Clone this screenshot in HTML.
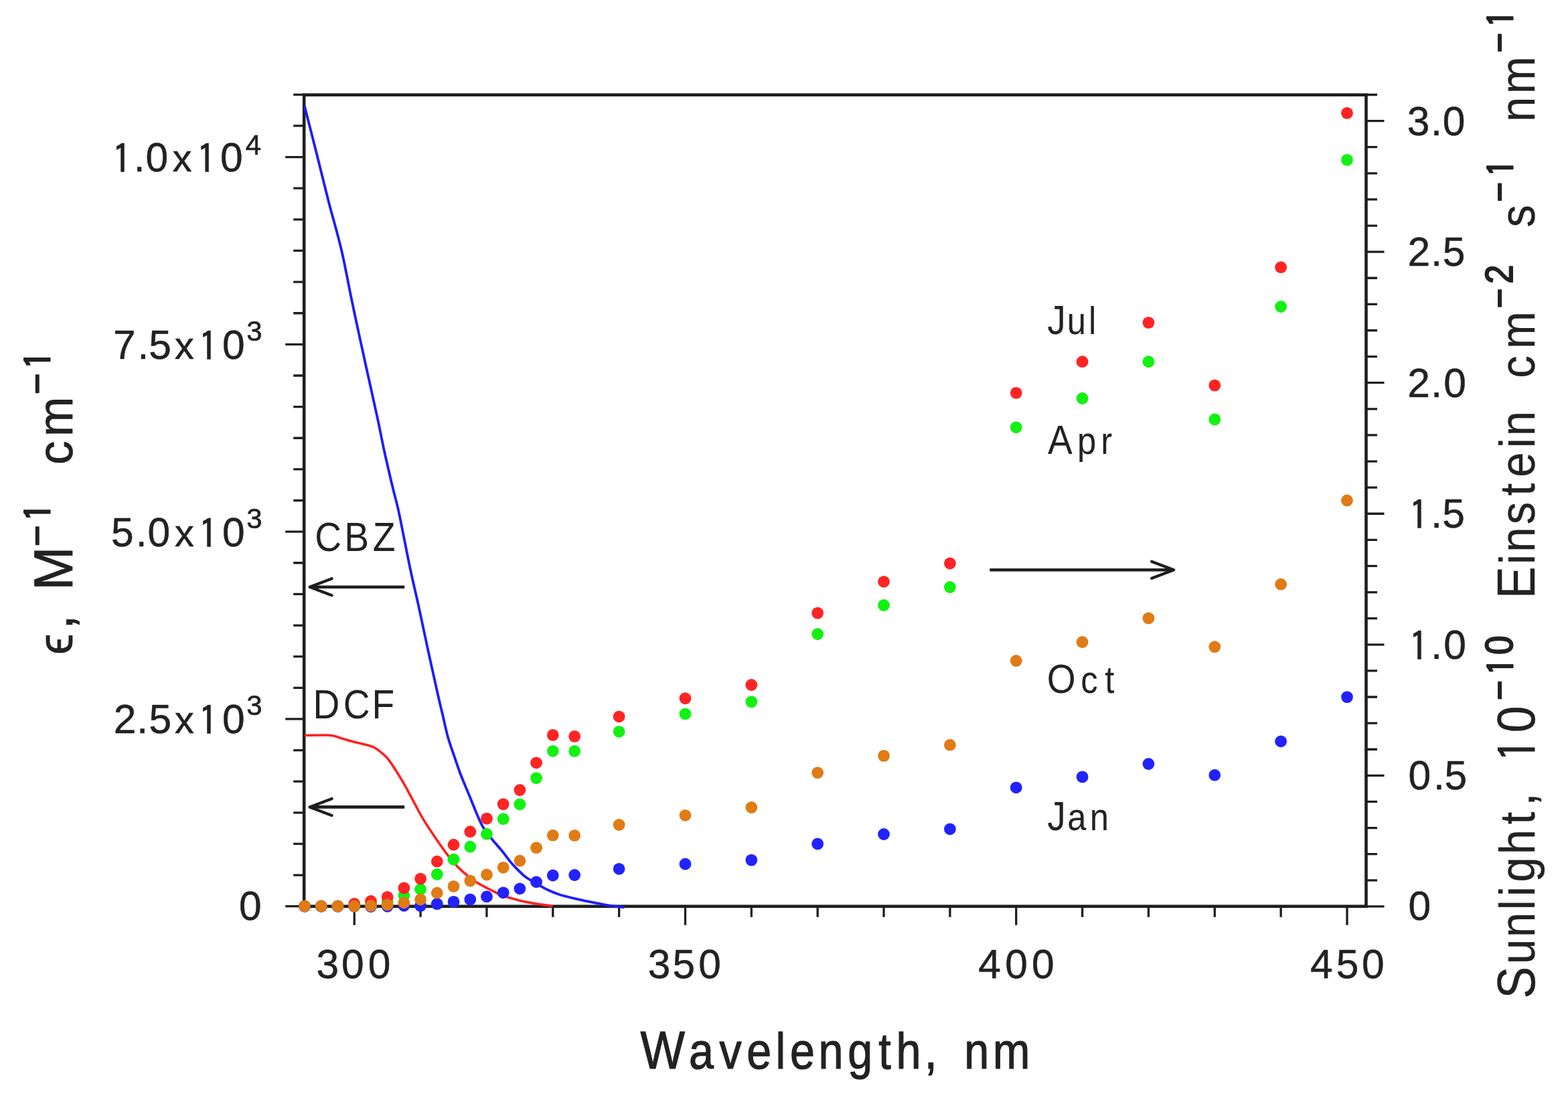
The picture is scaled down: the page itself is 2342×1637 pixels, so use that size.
<!DOCTYPE html>
<html><head><meta charset="utf-8"><title>Molar absorptivity and sunlight spectra</title>
<style>html,body{margin:0;padding:0;background:#fff;width:2342px;height:1637px;overflow:hidden}svg{display:block}</style>
</head><body>
<svg width="2342" height="1637" viewBox="0 0 2342 1637">
<rect x="0" y="0" width="2342" height="1637" fill="#fff"/>
<rect x="454.2" y="141.7" width="1586.3" height="1212" fill="none" stroke="#1e1e1e" stroke-width="4.6"/>
<path d="M426.2 1353.7H454.2 M438.2 1307.07H454.2 M438.2 1260.44H454.2 M438.2 1213.81H454.2 M438.2 1167.18H454.2 M438.2 1120.55H454.2 M426.2 1073.92H454.2 M438.2 1027.29H454.2 M438.2 980.66H454.2 M438.2 934.03H454.2 M438.2 887.4H454.2 M438.2 840.77H454.2 M426.2 794.14H454.2 M438.2 747.51H454.2 M438.2 700.88H454.2 M438.2 654.25H454.2 M438.2 607.62H454.2 M438.2 560.99H454.2 M426.2 514.36H454.2 M438.2 467.73H454.2 M438.2 421.1H454.2 M438.2 374.47H454.2 M438.2 327.84H454.2 M438.2 281.21H454.2 M426.2 234.58H454.2 M438.2 187.95H454.2 M438.2 141.32H454.2 M2040.5 1353.9H2067.5 M2040.5 1314.79H2057 M2040.5 1275.68H2057 M2040.5 1236.57H2057 M2040.5 1197.46H2057 M2040.5 1158.35H2067.5 M2040.5 1119.24H2057 M2040.5 1080.13H2057 M2040.5 1041.02H2057 M2040.5 1001.91H2057 M2040.5 962.8H2067.5 M2040.5 923.69H2057 M2040.5 884.58H2057 M2040.5 845.47H2057 M2040.5 806.36H2057 M2040.5 767.25H2067.5 M2040.5 728.14H2057 M2040.5 689.03H2057 M2040.5 649.92H2057 M2040.5 610.81H2057 M2040.5 571.7H2067.5 M2040.5 532.59H2057 M2040.5 493.48H2057 M2040.5 454.37H2057 M2040.5 415.26H2057 M2040.5 376.15H2067.5 M2040.5 337.04H2057 M2040.5 297.93H2057 M2040.5 258.82H2057 M2040.5 219.71H2057 M2040.5 180.6H2067.5 M2040.5 141.49H2057 M529.25 1353.7V1381.7 M628.1 1353.7V1369.7 M726.95 1353.7V1369.7 M825.8 1353.7V1369.7 M924.65 1353.7V1369.7 M1023.5 1353.7V1381.7 M1122.35 1353.7V1369.7 M1221.2 1353.7V1369.7 M1320.05 1353.7V1369.7 M1418.9 1353.7V1369.7 M1517.75 1353.7V1381.7 M1616.6 1353.7V1369.7 M1715.45 1353.7V1369.7 M1814.3 1353.7V1369.7 M1913.15 1353.7V1369.7 M2012 1353.7V1381.7" stroke="#1e1e1e" stroke-width="3.3" fill="none"/>
<path d="M454.8 158 C457.98 170.53 467.9 209.37 473.9 233.2 C479.9 257.03 484.8 277.7 490.8 301 C496.8 324.3 504.25 348.98 509.9 373 C515.55 397.02 520.97 427.07 524.7 445.1 C528.43 463.13 528.57 463.88 532.3 481.2 C536.03 498.52 541.82 524.98 547.1 549 C552.38 573.02 559.58 604.8 564 625.3 C568.42 645.8 569.88 655.05 573.6 672 C577.32 688.95 582.8 712.33 586.3 727 C589.8 741.67 591.92 748.15 594.6 760 C597.28 771.85 599.22 782.4 602.4 798.1 C605.58 813.8 609.95 836.62 613.7 854.2 C617.45 871.78 620.8 884.9 624.9 903.6 C629 922.3 633.35 943.67 638.3 966.4 C643.25 989.13 650.8 1023.15 654.6 1040 C658.4 1056.85 658.67 1057.23 661.1 1067.5 C663.53 1077.77 666.23 1091.07 669.2 1101.6 C672.17 1112.13 675.67 1121.25 678.9 1130.7 C682.13 1140.15 685.08 1149.12 688.6 1158.3 C692.12 1167.48 696.22 1176.62 700 1185.8 C703.78 1194.98 707.8 1205.28 711.3 1213.4 C714.8 1221.52 717.22 1228.02 721 1234.5 C724.78 1240.98 730.83 1248.12 734 1252.3 C737.17 1256.48 737.25 1256.35 740 1259.6 C742.75 1262.85 746.87 1267.3 750.5 1271.8 C754.13 1276.3 758.03 1282.1 761.8 1286.6 C765.57 1291.1 769.18 1294.88 773.1 1298.8 C777.02 1302.72 780.65 1306.62 785.3 1310.1 C789.95 1313.58 795.48 1316.5 801 1319.7 C806.52 1322.9 812.6 1326.55 818.4 1329.3 C824.2 1332.05 828.53 1333.95 835.8 1336.2 C843.07 1338.45 853.28 1340.77 862 1342.8 C870.72 1344.83 879.4 1346.67 888.1 1348.4 C896.8 1350.13 906.8 1352.07 914.2 1353.2 C921.6 1354.33 929.45 1354.87 932.5 1355.2" fill="none" stroke="#1c1cff" stroke-width="3.8" stroke-linejoin="round" stroke-linecap="butt"/>
<path d="M455 1098.3 C460.15 1098.25 478.7 1097.87 485.9 1098 C493.1 1098.13 493.72 1098.17 498.2 1099.1 C502.68 1100.03 507.75 1102.12 512.8 1103.6 C517.85 1105.08 522.7 1106.52 528.5 1108 C534.3 1109.48 542.73 1111.18 547.6 1112.5 C552.47 1113.82 554.33 1114.22 557.7 1115.9 C561.07 1117.58 564.62 1120.17 567.8 1122.6 C570.98 1125.03 574 1127.5 576.8 1130.5 C579.6 1133.5 581.62 1136.3 584.6 1140.6 C587.58 1144.9 591.33 1150.88 594.7 1156.3 C598.07 1161.72 601.8 1167.87 604.8 1173.1 C607.8 1178.33 610.08 1182.83 612.7 1187.7 C615.32 1192.57 617.7 1197.07 620.5 1202.3 C623.3 1207.53 626.13 1213.3 629.5 1219.1 C632.87 1224.9 636.58 1230.78 640.7 1237.1 C644.82 1243.42 649.38 1250.13 654.2 1257 C659.02 1263.87 664.07 1271.4 669.6 1278.3 C675.13 1285.2 680.5 1291.9 687.4 1298.4 C694.3 1304.9 702.23 1311.57 711 1317.3 C719.77 1323.03 732.27 1329.07 740 1332.8 C747.73 1336.53 750.13 1337.38 757.4 1339.7 C764.67 1342.02 772.27 1344.42 783.6 1346.7 C794.93 1348.98 818.43 1352.28 825.4 1353.4" fill="none" stroke="#ff2020" stroke-width="3.6" stroke-linejoin="round" stroke-linecap="butt"/>
<g fill="#12f212">
<circle cx="455" cy="1353.5" r="8.9"/>
<circle cx="479.8" cy="1353.5" r="8.9"/>
<circle cx="504.5" cy="1353.5" r="8.9"/>
<circle cx="529.25" cy="1353.5" r="8.9"/>
<circle cx="553.96" cy="1350" r="8.9"/>
<circle cx="578.7" cy="1346.6" r="8.9"/>
<circle cx="603.4" cy="1337.5" r="8.9"/>
<circle cx="628.1" cy="1328.2" r="8.9"/>
<circle cx="652.8" cy="1305.9" r="8.9"/>
<circle cx="677.5" cy="1283.6" r="8.9"/>
<circle cx="702.3" cy="1264.7" r="8.9"/>
<circle cx="727" cy="1245.7" r="8.9"/>
<circle cx="751.7" cy="1223.2" r="8.9"/>
<circle cx="776.4" cy="1201.3" r="8.9"/>
<circle cx="801.1" cy="1162.1" r="8.9"/>
<circle cx="825.8" cy="1121.8" r="8.9"/>
<circle cx="858.2" cy="1121.9" r="8.9"/>
<circle cx="924.65" cy="1092.8" r="8.9"/>
<circle cx="1023.5" cy="1066.3" r="8.9"/>
<circle cx="1122.35" cy="1048.1" r="8.9"/>
<circle cx="1221.2" cy="947" r="8.9"/>
<circle cx="1320.05" cy="904" r="8.9"/>
<circle cx="1418.9" cy="877" r="8.9"/>
<circle cx="1517.75" cy="638.3" r="8.9"/>
<circle cx="1616.6" cy="595" r="8.9"/>
<circle cx="1715.45" cy="540.2" r="8.9"/>
<circle cx="1814.3" cy="626.5" r="8.9"/>
<circle cx="1913.15" cy="458" r="8.9"/>
<circle cx="2012" cy="238.9" r="8.9"/>
</g>
<g fill="#ff2424">
<circle cx="455" cy="1353.5" r="8.9"/>
<circle cx="479.8" cy="1353.5" r="8.9"/>
<circle cx="504.5" cy="1353.5" r="8.9"/>
<circle cx="529.25" cy="1350" r="8.9"/>
<circle cx="553.96" cy="1346" r="8.9"/>
<circle cx="578.7" cy="1339.8" r="8.9"/>
<circle cx="603.4" cy="1326.4" r="8.9"/>
<circle cx="628.1" cy="1312.6" r="8.9"/>
<circle cx="652.8" cy="1286.7" r="8.9"/>
<circle cx="677.5" cy="1261.7" r="8.9"/>
<circle cx="702.3" cy="1242.2" r="8.9"/>
<circle cx="727" cy="1222.6" r="8.9"/>
<circle cx="751.7" cy="1201.1" r="8.9"/>
<circle cx="776.4" cy="1180" r="8.9"/>
<circle cx="801.1" cy="1139.3" r="8.9"/>
<circle cx="825.8" cy="1097.9" r="8.9"/>
<circle cx="858.2" cy="1099.9" r="8.9"/>
<circle cx="924.65" cy="1070.3" r="8.9"/>
<circle cx="1023.5" cy="1043.1" r="8.9"/>
<circle cx="1122.35" cy="1023" r="8.9"/>
<circle cx="1221.2" cy="915.6" r="8.9"/>
<circle cx="1320.05" cy="868.8" r="8.9"/>
<circle cx="1418.9" cy="841.5" r="8.9"/>
<circle cx="1517.75" cy="586.9" r="8.9"/>
<circle cx="1616.6" cy="540.2" r="8.9"/>
<circle cx="1715.45" cy="481.9" r="8.9"/>
<circle cx="1814.3" cy="575.6" r="8.9"/>
<circle cx="1913.15" cy="399.2" r="8.9"/>
<circle cx="2012" cy="168.9" r="8.9"/>
</g>
<g fill="#2222ff">
<circle cx="455" cy="1353.7" r="8.9"/>
<circle cx="479.8" cy="1353.7" r="8.9"/>
<circle cx="504.5" cy="1353.7" r="8.9"/>
<circle cx="529.25" cy="1353.7" r="8.9"/>
<circle cx="553.96" cy="1354" r="8.9"/>
<circle cx="578.7" cy="1353.8" r="8.9"/>
<circle cx="603.4" cy="1352.8" r="8.9"/>
<circle cx="628.1" cy="1353" r="8.9"/>
<circle cx="652.8" cy="1350.1" r="8.9"/>
<circle cx="677.5" cy="1346.9" r="8.9"/>
<circle cx="702.3" cy="1343.4" r="8.9"/>
<circle cx="727" cy="1339.2" r="8.9"/>
<circle cx="751.7" cy="1333.3" r="8.9"/>
<circle cx="776.4" cy="1327.3" r="8.9"/>
<circle cx="801.1" cy="1317.3" r="8.9"/>
<circle cx="825.8" cy="1307.5" r="8.9"/>
<circle cx="858.2" cy="1307" r="8.9"/>
<circle cx="924.65" cy="1297.8" r="8.9"/>
<circle cx="1023.5" cy="1290.5" r="8.9"/>
<circle cx="1122.35" cy="1284.6" r="8.9"/>
<circle cx="1221.2" cy="1260.4" r="8.9"/>
<circle cx="1320.05" cy="1246" r="8.9"/>
<circle cx="1418.9" cy="1238.3" r="8.9"/>
<circle cx="1517.75" cy="1176.3" r="8.9"/>
<circle cx="1616.6" cy="1160.4" r="8.9"/>
<circle cx="1715.45" cy="1141" r="8.9"/>
<circle cx="1814.3" cy="1157.7" r="8.9"/>
<circle cx="1913.15" cy="1107.3" r="8.9"/>
<circle cx="2012" cy="1041.1" r="8.9"/>
</g>
<g fill="#e07b16">
<circle cx="455" cy="1353.5" r="8.9"/>
<circle cx="479.8" cy="1353.5" r="8.9"/>
<circle cx="504.5" cy="1353.5" r="8.9"/>
<circle cx="529.25" cy="1353.5" r="8.9"/>
<circle cx="553.96" cy="1353" r="8.9"/>
<circle cx="578.7" cy="1351.5" r="8.9"/>
<circle cx="603.4" cy="1348.3" r="8.9"/>
<circle cx="628.1" cy="1343.5" r="8.9"/>
<circle cx="652.8" cy="1333.7" r="8.9"/>
<circle cx="677.5" cy="1323.9" r="8.9"/>
<circle cx="702.3" cy="1315.6" r="8.9"/>
<circle cx="727" cy="1306.5" r="8.9"/>
<circle cx="751.7" cy="1295.8" r="8.9"/>
<circle cx="776.4" cy="1285.7" r="8.9"/>
<circle cx="801.1" cy="1266.2" r="8.9"/>
<circle cx="825.8" cy="1247.7" r="8.9"/>
<circle cx="858.2" cy="1247.9" r="8.9"/>
<circle cx="924.65" cy="1232" r="8.9"/>
<circle cx="1023.5" cy="1217.8" r="8.9"/>
<circle cx="1122.35" cy="1206" r="8.9"/>
<circle cx="1221.2" cy="1154.1" r="8.9"/>
<circle cx="1320.05" cy="1128.9" r="8.9"/>
<circle cx="1418.9" cy="1112.7" r="8.9"/>
<circle cx="1517.75" cy="987" r="8.9"/>
<circle cx="1616.6" cy="959" r="8.9"/>
<circle cx="1715.45" cy="923.4" r="8.9"/>
<circle cx="1814.3" cy="966.1" r="8.9"/>
<circle cx="1913.15" cy="872.7" r="8.9"/>
<circle cx="2012" cy="747.5" r="8.9"/>
</g>
<path d="M604.2 876.7H463.6" fill="none" stroke="#1e1e1e" stroke-width="4.6"/>
<path d="M495.6 864.2L462.6 876.7L495.6 889.2" fill="none" stroke="#1e1e1e" stroke-width="4.3" stroke-linejoin="round" stroke-linecap="round"/>
<path d="M604.2 1205.4H463.6" fill="none" stroke="#1e1e1e" stroke-width="4.6"/>
<path d="M495.6 1192.9L462.6 1205.4L495.6 1217.9" fill="none" stroke="#1e1e1e" stroke-width="4.3" stroke-linejoin="round" stroke-linecap="round"/>
<path d="M1478.3 851.3H1752.2" fill="none" stroke="#1e1e1e" stroke-width="4.6"/>
<path d="M1720.2 838.8L1753.2 851.3L1720.2 863.8" fill="none" stroke="#1e1e1e" stroke-width="4.3" stroke-linejoin="round" stroke-linecap="round"/>
<g fill="#222" font-family="'Liberation Sans', Arial, Helvetica, sans-serif">
<text transform="translate(172.8 255.9)" font-size="60.5" x="-5.48 26.9 44.73 84.91 120.77 156.18" y="3.02 0 0 0 3.02 0" stroke="#222" stroke-width="0.5" stroke-linejoin="round"><tspan font-family="IPAGothic, 'Liberation Sans', sans-serif" font-size="59.45">1</tspan>.0<tspan font-size="57.5">x</tspan><tspan font-family="IPAGothic, 'Liberation Sans', sans-serif" font-size="59.45">1</tspan>0</text>
<text transform="translate(367.5 230.6)" font-size="42" x="-0.85" y="0" stroke="#222" stroke-width="0.6" stroke-linejoin="round">4</text>
<text transform="translate(172 535.9)" font-size="60.5" x="-3 33.45 50.14 88.91 124.27 160.08" y="0 0 0 0 3.02 0" stroke="#222" stroke-width="0.5" stroke-linejoin="round">7.5<tspan font-size="57.5">x</tspan><tspan font-family="IPAGothic, 'Liberation Sans', sans-serif" font-size="59.45">1</tspan>0</text>
<text transform="translate(370.6 509.1)" font-size="42" x="-2.41" y="0" stroke="#222" stroke-width="0.6" stroke-linejoin="round">3</text>
<text transform="translate(170.6 815.8)" font-size="60.5" x="-4.66 32.1 49.98 90.31 125.67 161.48" y="0 0 0 0 3.02 0" stroke="#222" stroke-width="0.5" stroke-linejoin="round">5.0<tspan font-size="57.5">x</tspan><tspan font-family="IPAGothic, 'Liberation Sans', sans-serif" font-size="59.45">1</tspan>0</text>
<text transform="translate(370.6 789)" font-size="42" x="-2.41" y="0" stroke="#222" stroke-width="0.6" stroke-linejoin="round">3</text>
<text transform="translate(173.5 1095.4)" font-size="60.5" x="-3.67 30.85 48.99 87.41 122.77 158.58" y="0 0 0 0 3.02 0" stroke="#222" stroke-width="0.5" stroke-linejoin="round">2.5<tspan font-size="57.5">x</tspan><tspan font-family="IPAGothic, 'Liberation Sans', sans-serif" font-size="59.45">1</tspan>0</text>
<text transform="translate(370.6 1068.3)" font-size="42" x="-2.41" y="0" stroke="#222" stroke-width="0.6" stroke-linejoin="round">3</text>
<text transform="translate(359 1374.2)" font-size="60.5" x="-1.97" y="0" stroke="#222" stroke-width="0.5" stroke-linejoin="round">0</text>
<text transform="translate(2105.4 201.6)" font-size="60.5" x="-3.55 31.6 49.38" y="0" stroke="#222" stroke-width="0.5" stroke-linejoin="round">3.0</text>
<text transform="translate(2106 397.4)" font-size="60.5" x="-3.57 31.2 48.69" y="0" stroke="#222" stroke-width="0.5" stroke-linejoin="round">2.5</text>
<text transform="translate(2105.8 592.6)" font-size="60.5" x="-3.62 31.4 50.48" y="0" stroke="#222" stroke-width="0.5" stroke-linejoin="round">2.0</text>
<text transform="translate(2110 788.3)" font-size="60.5" x="-5.83 27.2 44.19" y="3.02 0 0" stroke="#222" stroke-width="0.5" stroke-linejoin="round"><tspan font-family="IPAGothic, 'Liberation Sans', sans-serif" font-size="59.45">1</tspan>.5</text>
<text transform="translate(2110 984.1)" font-size="60.5" x="-5.83 27.2 46.28" y="3.02 0 0" stroke="#222" stroke-width="0.5" stroke-linejoin="round"><tspan font-family="IPAGothic, 'Liberation Sans', sans-serif" font-size="59.45">1</tspan>.0</text>
<text transform="translate(2105.5 1179.3)" font-size="60.5" x="-2.02 35.4 51.99" y="0" stroke="#222" stroke-width="0.5" stroke-linejoin="round">0.5</text>
<text transform="translate(2105.5 1374.2)" font-size="60.5" x="-2.02" y="0" stroke="#222" stroke-width="0.5" stroke-linejoin="round">0</text>
<text transform="translate(476.2 1461.2)" font-size="60.5" x="-3.7 33.88 73.68" y="0" stroke="#222" stroke-width="0.5" stroke-linejoin="round">300</text>
<text transform="translate(971.9 1461.2)" font-size="60.5" x="-4.1 32.69 71.38" y="0" stroke="#222" stroke-width="0.5" stroke-linejoin="round">350</text>
<text transform="translate(1462.5 1461.2)" font-size="60.5" x="-1.28 38.78 78.58" y="0" stroke="#222" stroke-width="0.5" stroke-linejoin="round">400</text>
<text transform="translate(1958.3 1461.2)" font-size="60.5" x="-1.28 37.44 75.73" y="0" stroke="#222" stroke-width="0.5" stroke-linejoin="round">450</text>
<text transform="translate(472.2 822.7) scale(0.9 1)" font-size="61.3" x="-2.19 46.71 93.93" y="0">CBZ</text>
<text transform="translate(472.2 1072.7) scale(0.9 1)" font-size="61.3" x="-5.24 45.09 92.44" y="0">DCF</text>
<text transform="translate(1566 498.9) scale(0.9 1)" font-size="61.3" x="-2.08 30.94 66.54" y="0">J<tspan font-size="56.5">ul</tspan></text>
<text transform="translate(1566.2 677.8) scale(0.9 1)" font-size="61.3" x="-1.39 47.43 86.69" y="0">A<tspan font-size="56.5">pr</tspan></text>
<text transform="translate(1566.2 1035) scale(0.9 1)" font-size="61.3" x="-2.6 53.42 93.49" y="0">O<tspan font-size="56.5">ct</tspan></text>
<text transform="translate(1566 1240.4) scale(0.9 1)" font-size="61.3" x="-2.08 31.31 68.75" y="0">J<tspan font-size="56.5">an</tspan></text>
<text transform="translate(958.5 1596.2) scale(0.88 1)" font-size="80" x="-2.17 80.19 131.81 178.06 227.39 251.64 299.92 349.63 401.89 431.85 479.45 484.45 547.42 596.04" y="0" stroke="#222" stroke-width="1.2" stroke-linejoin="round">W<tspan font-size="75.5">avelength</tspan>, <tspan font-size="75.5">nm</tspan></text>
<text transform="translate(107.9 976.8) rotate(-90) scale(0.96 1)" font-size="81.5" x="-0.93 38.21 43.21 99.13" y="0" stroke="#222" stroke-width="0.8" stroke-linejoin="round"><tspan font-size="74">ϵ</tspan>, M</text>
<text transform="translate(74.4 814.8) rotate(-90) scale(0.96 1)" font-size="55.5" x="-1.22 37.99" y="0 2.77" stroke="#222" stroke-width="2" stroke-linejoin="round">−<tspan font-family="IPAGothic, 'Liberation Sans', sans-serif" font-size="54.53">1</tspan></text>
<text transform="translate(107.9 692.1) rotate(-90) scale(0.96 1)" font-size="81.5" x="-2.06 41.76" y="0" stroke="#222" stroke-width="0.8" stroke-linejoin="round"><tspan font-size="74">cm</tspan></text>
<text transform="translate(74.4 587.8) rotate(-90) scale(0.96 1)" font-size="55.5" x="-1.17 38.41" y="0 2.77" stroke="#222" stroke-width="2" stroke-linejoin="round">−<tspan font-family="IPAGothic, 'Liberation Sans', sans-serif" font-size="54.53">1</tspan></text>
<text transform="translate(2292.3 1487.1) rotate(-90) scale(0.9 1)" font-size="79.5" x="-4.88 52.28 96.73 142.04 164.58 188.56 234.34 284.3 314.51 319.51 387.8 436.62" y="0 0 0 0 0 0 0 0 0 0 3.97 0" stroke="#222" stroke-width="0.3" stroke-linejoin="round">S<tspan font-size="74.5">unlight</tspan>, <tspan font-family="IPAGothic, 'Liberation Sans', sans-serif" font-size="78.11">1</tspan>0</text>
<text transform="translate(2259.1 1045.1) rotate(-90) scale(0.9 1)" font-size="56.5" x="-0.73 40.92 74.9" y="0 2.82 0" stroke="#222" stroke-width="2" stroke-linejoin="round">−<tspan font-family="IPAGothic, 'Liberation Sans', sans-serif" font-size="55.51">1</tspan>0</text>
<text transform="translate(2292.3 886.6) rotate(-90) scale(0.9 1)" font-size="79.5" x="-8.29 48.46 68.78 114.85 162.25 193.24 241.58 261.51 266.51 357.55 406.34" y="0" stroke="#222" stroke-width="0.3" stroke-linejoin="round">E<tspan font-size="74.5">instein</tspan> <tspan font-size="74.5">cm</tspan></text>
<text transform="translate(2259.1 459.5) rotate(-90) scale(0.9 1)" font-size="56.5" x="-0.79 39.62" y="0" stroke="#222" stroke-width="2" stroke-linejoin="round">−2</text>
<text transform="translate(2292.3 335.6) rotate(-90) scale(0.9 1)" font-size="79.5" x="-4.37" y="0" stroke="#222" stroke-width="0.3" stroke-linejoin="round"><tspan font-size="74.5">s</tspan></text>
<text transform="translate(2259.1 300.7) rotate(-90) scale(0.9 1)" font-size="56.5" x="-0.79 41.3" y="0 2.82" stroke="#222" stroke-width="2" stroke-linejoin="round">−<tspan font-family="IPAGothic, 'Liberation Sans', sans-serif" font-size="55.51">1</tspan></text>
<text transform="translate(2292.3 177.4) rotate(-90) scale(0.9 1)" font-size="79.5" x="-4.99 41.4" y="0" stroke="#222" stroke-width="0.3" stroke-linejoin="round"><tspan font-size="74.5">nm</tspan></text>
<text transform="translate(2259.1 77.8) rotate(-90) scale(0.9 1)" font-size="56.5" x="-0.73 41.42" y="0 2.82" stroke="#222" stroke-width="2" stroke-linejoin="round">−<tspan font-family="IPAGothic, 'Liberation Sans', sans-serif" font-size="55.51">1</tspan></text>
</g>
</svg>
</body></html>
